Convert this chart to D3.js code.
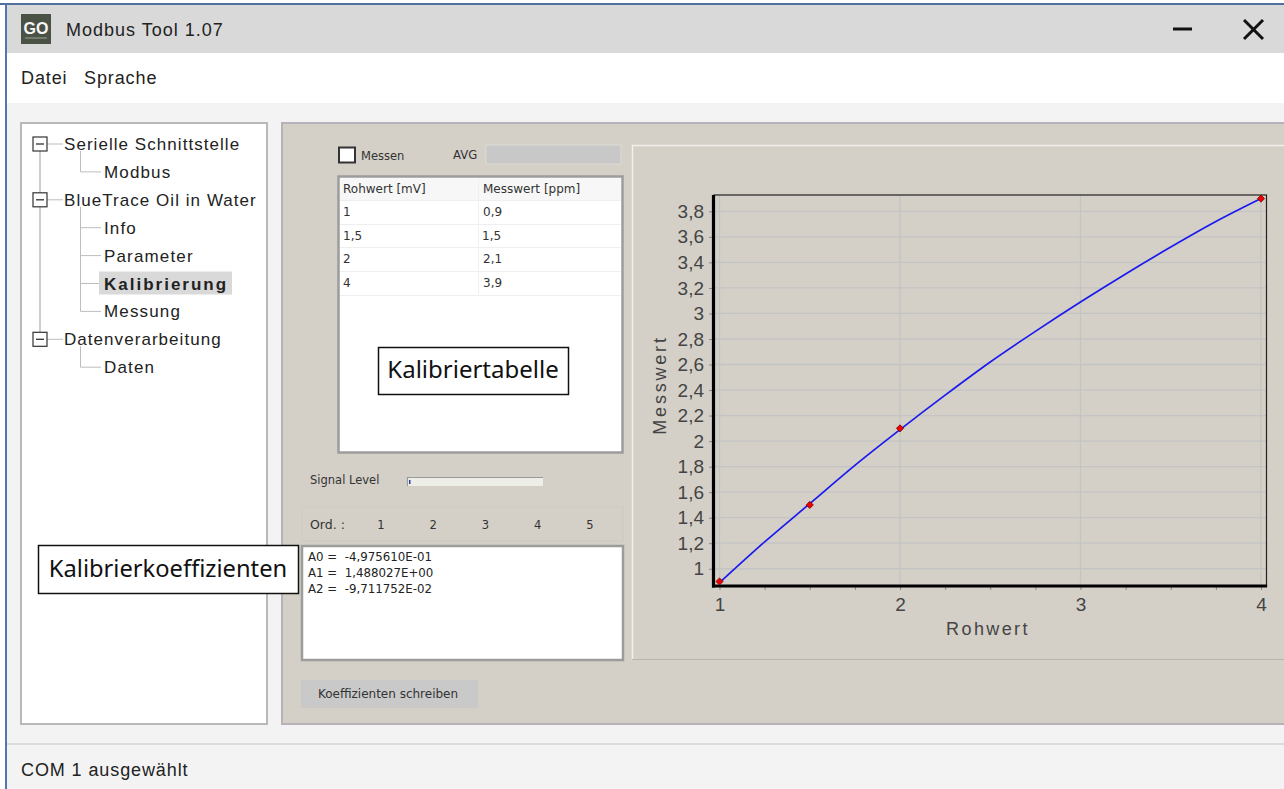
<!DOCTYPE html>
<html><head><meta charset="utf-8">
<script src="https://cdn.jsdelivr.net/npm/d3@7/dist/d3.min.js"></script>
<style>html,body{margin:0;padding:0;background:#fff;overflow:hidden}svg{display:block}</style>
</head><body><svg id="c" width="1284" height="789"></svg>
<script>
// Calibration points (table)
const rawValues=[1,1.5,2,4];
const rawLabels=["1","1,5","2","4"];
const measuredValues=[0.9,1.5,2.1,3.9];
const measuredLabels=["0,9","1,5","2,1","3,9"];
// Fitted line
const curveX=[1,1.25,1.5,1.75,2,2.25,2.5,2.75,3,3.25,3.5,3.75,4];
const curveY=[0.89,1.21,1.51,1.81,2.09,2.36,2.62,2.86,3.09,3.31,3.52,3.72,3.9];
const xTicks=[1,2,3,4];
const xMinorTicks=[1.25,1.5,1.75,2.25,2.5,2.75,3.25,3.5,3.75];
const yTicks=[1,1.2,1.4,1.6,1.8,2,2.2,2.4,2.6,2.8,3,3.2,3.4,3.6,3.8];
const treeRoots=["Serielle Schnittstelle","BlueTrace Oil in Water","Datenverarbeitung"];
const treeChildren=[["Modbus"],["Info","Parameter","Kalibrierung","Messung"],["Daten"]];
const coefficients=["A0 =  -4,975610E-01","A1 =  1,488027E+00","A2 =  -9,711752E-02"];
const orders=["1","2","3","4","5"];

const svg=d3.select("#c");
const SANS="'Liberation Sans', Arial, sans-serif", SMALL="'DejaVu Sans', sans-serif", NOTE="'Noto Sans', sans-serif", CHART="'Liberation Sans', Arial, sans-serif";
const rect=(x,y,w,h,fill,stroke,sw)=>svg.append("rect").attr("x",x).attr("y",y).attr("width",w).attr("height",h).attr("fill",fill).attr("stroke",stroke||"none").attr("stroke-width",sw||0);
const line=(g,x1,y1,x2,y2,c,w)=>g.append("line").attr("x1",x1).attr("y1",y1).attr("x2",x2).attr("y2",y2).attr("stroke",c).attr("stroke-width",w||1);
const text=(x,y,t,size,font,fill,extra)=>{const e=svg.append("text").attr("x",x).attr("y",y).text(t).attr("font-size",size).attr("font-family",font).attr("fill",fill||"#222");if(extra)extra(e);return e;};

// window
rect(0,0,1284,789,"#ffffff");
rect(7,103,1277,686,"#f3f3f3");
rect(7,5,1277,48,"#d9d9d9");
rect(7,53,1277,50,"#ffffff");
rect(0,3,1284,2,"#4f6f9f");
rect(5,3,2,786,"#5477aa");
// icon
rect(21,14,30,30,"#4a5246");
text(36,34,"GO",16,SANS,"#f6f6f6",e=>e.attr("text-anchor","middle").attr("font-weight",700));
line(svg,25,38,47,38,"#8f9489",1.2);
text(66,36,"Modbus Tool 1.07",18,SANS,"#222",e=>e.attr("letter-spacing",1));
text(21,84,"Datei",18,SANS,"#222",e=>e.attr("letter-spacing",0.9));
text(84,84,"Sprache",18,SANS,"#222",e=>e.attr("letter-spacing",0.9));
line(svg,1173,29,1192,29,"#111",3);
line(svg,1244,20,1263,39,"#111",3);line(svg,1263,20,1244,39,"#111",3);

// tree
rect(21,123,246,601,"#fff","#b9b9b9",2);
const tree=svg.append("g");
let rowY=144;const rowH=27.9;
const bx=40;
const rootYs=[];
treeRoots.forEach((r,i)=>{
  rootYs.push(rowY);
  const top=rowY;
  const ch=treeChildren[i];
  const childYs=ch.map((c,j)=>top+rowH*(j+1));
  line(tree,80.5,top+7,80.5,childYs[childYs.length-1],"#bdbdbd",1);
  childYs.forEach(y=>line(tree,80.5,y,101,y,"#bdbdbd",1));
  rowY=childYs[childYs.length-1]+rowH;
});
line(tree,bx,rootYs[0],bx,rootYs[2],"#bdbdbd",1.5);
treeRoots.forEach((r,i)=>{
  const y=rootYs[i];
  line(tree,47,y,63,y,"#bdbdbd",1);
  tree.append("rect").attr("x",33).attr("y",y-7).attr("width",14).attr("height",14).attr("fill","#fff").attr("stroke","#333").attr("stroke-width",1.2);
  line(tree,36,y,44,y,"#333",1.3);
  text(64,y+6,r,17,SANS,"#222",e=>e.attr("letter-spacing",1.05));
  treeChildren[i].forEach((c,j)=>{
    const cy=y+rowH*(j+1);
    const sel=c==="Kalibrierung";
    if(sel)rect(99,cy-12,133,23,"#d9d9d9");
    text(104,cy+6,c,17,SANS,"#222",e=>{e.attr("letter-spacing",sel?2:1.15);if(sel)e.attr("font-weight",700);});
  });
});

// main panel
rect(282,123,1002,601,"#d4d0c8");
rect(281,122,1003,2,"#b7b2ba");rect(281,122,2,603,"#b7b2ba");
rect(283,723,1001,2,"#b7b2ba");
rect(7,743,1277,2,"#dcdcdc");

// Messen / AVG
rect(339,147.5,16,15,"#fff","#333",2);
text(361,160,"Messen",11.5,SMALL,"#333");
text(453,159,"AVG",11.7,SMALL,"#333");
rect(486,145,135,19,"#c8c8c8","#dedbd5",1);

// table
rect(338.5,176.5,284,276,"#fff","#9c9c9c",2.5);
rect(340,178,281,22,"#f7f7f7");
const colX=[343,483];
const tableG=svg.append("g");
line(tableG,478.5,178,478.5,294,"#f0f0f0",1);
const rows=[["Rohwert [mV]","Messwert [ppm]"]].concat(rawLabels.map((r,i)=>[r,measuredLabels[i]]));
rows.forEach((r,i)=>{
  const y=188.5+i*23.6;
  text(colX[0],y+4,r[0],12,SMALL,"#333");
  text(colX[1]-(i===2?1:0),y+4,r[1],12,SMALL,"#333");
  line(tableG,340,Math.round(y+11.6)+.5,621,Math.round(y+11.6)+.5,"#efefef",1);
});
// annotation boxes
rect(378.5,347.5,190,47,"#fff","#111",1.5);
text(473,378,"Kalibriertabelle",24,NOTE,"#111",e=>e.attr("text-anchor","middle"));
// signal level
text(310,484,"Signal Level",11.5,SMALL,"#333");
rect(407,477,136,9,"#eeeee8");
svg.append("path").attr("d","M407.5 486V477.5H543").attr("fill","none").attr("stroke","#9a9a9a").attr("stroke-width",1.2);
rect(409,480,1.5,4,"#2a3f9a");
// ord
rect(302,507,321,34,"#d4d0c8","#ccc9c1",1);
text(310,529,"Ord. :",12.5,SMALL,"#333");
const ordScale=d3.scalePoint().domain(orders).range([381,590]);
orders.forEach(o=>text(ordScale(o),529,o,11.5,SMALL,"#333",e=>e.attr("text-anchor","middle")));
// coefficients
rect(302,546,321,114,"#fff","#9c9c9c",2.5);
coefficients.forEach((c,i)=>text(308,561+i*16.2,c,11.8,SMALL,"#222").style("white-space","pre"));
rect(38.5,545.5,260,48,"#fff","#111",1.5);
text(168,577,"Kalibrierkoeffizienten",23.7,NOTE,"#111",e=>e.attr("text-anchor","middle"));
// button
rect(301,680,177,28,"#c9c9c9");
text(388,698,"Koeffizienten schreiben",12,SMALL,"#333",e=>e.attr("text-anchor","middle"));

// chart frame
svg.append("path").attr("d","M632.5 660V145.5H1284").attr("fill","none").attr("stroke","#f2f0ea").attr("stroke-width",1.5);
svg.append("path").attr("d","M632 659.5H1284").attr("fill","none").attr("stroke","#b8b5ae").attr("stroke-width",1);

// chart
const x=d3.scaleLinear().domain([1,4]).range([719.5,1261]);
const y=d3.scaleLinear().domain([0.9,3.9]).range([581.5,198.6]);
const L=714,R=1266.5,T=195,B=586;
const chart=svg.append("g");
yTicks.forEach(v=>line(chart,L,y(v),R,y(v),"#c4c4c4",1.3));
xTicks.forEach(v=>line(chart,x(v),T,x(v),B,"#c4c4c4",1.3));
const xAxis=d3.axisBottom(x).tickValues(xTicks).tickSize(4).tickPadding(8).tickFormat(d=>String(d));
const xg=chart.append("g").attr("transform",`translate(0,${B})`).call(xAxis);
xg.select(".domain").remove();
xg.selectAll("text").attr("font-size",19).attr("font-family",CHART).attr("fill","#444");
xg.selectAll("line").attr("stroke","#888");
const xm=chart.append("g").attr("transform",`translate(0,${B})`).call(d3.axisBottom(x).tickValues(xMinorTicks).tickSize(4).tickFormat(""));
xm.select(".domain").remove();xm.selectAll("line").attr("stroke","#888");
const yAxis=d3.axisLeft(y).tickValues(yTicks).tickSize(3).tickPadding(5).tickFormat(d=>String(d).replace(".",","));
const yg=chart.append("g").attr("transform",`translate(${L-2},0)`).call(yAxis);
yg.select(".domain").remove();
yg.selectAll("text").attr("font-size",19).attr("font-family",CHART).attr("fill","#444");
yg.selectAll("line").attr("stroke","#888");
// frame
chart.append("rect").attr("x",L).attr("y",T).attr("width",R-L).attr("height",B-T).attr("fill","none").attr("stroke","#222").attr("stroke-width",1.2);
line(chart,L-0.5,T,L-0.5,B+1.5,"#000",3.2);
line(chart,L-2,B,R+0.6,B,"#000",3);
// fit
const lineGen=d3.line().x((d,i)=>x(curveX[i])).y(d=>y(d)).curve(d3.curveMonotoneX);
chart.append("path").attr("d",lineGen(curveY)).attr("fill","none").attr("stroke","#1a1aee").attr("stroke-width",1.7);
const sym=d3.symbol().type(d3.symbolSquare).size(26);
chart.selectAll("path.pt").data(rawValues).join("path").attr("class","pt")
 .attr("d",sym).attr("transform",(d,i)=>`translate(${x(d)},${y(measuredValues[i])}) rotate(45)`)
 .attr("fill","#f00000").attr("stroke","#600").attr("stroke-width",0.7).attr("stroke-linejoin","round");
text(988,635,"Rohwert",18,CHART,"#444",e=>e.attr("text-anchor","middle").attr("letter-spacing",2.4));
svg.append("text").attr("transform","translate(666,385) rotate(-90)").attr("text-anchor","middle").text("Messwert").attr("font-size",18).attr("font-family",CHART).attr("fill","#444").attr("letter-spacing",2.8);

text(21,776,"COM 1 ausgewählt",18,SANS,"#222",e=>e.attr("letter-spacing",0.9));
</script></body></html>
